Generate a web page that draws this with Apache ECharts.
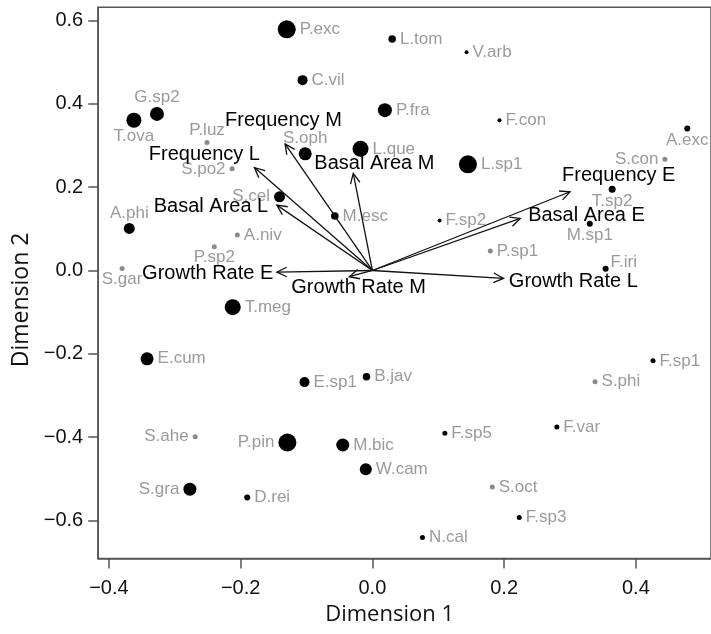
<!DOCTYPE html>
<html><head><meta charset="utf-8">
<script src="https://cdn.jsdelivr.net/npm/echarts@6/dist/echarts.min.js"></script>
<style>html,body{margin:0;padding:0;background:#fff}#c{width:711px;height:634px}</style>
</head><body><div id="c"></div>
<script>
// ---- species scores ----
const species = ['P.exc','L.tom','V.arb','C.vil','G.sp2','T.ova','P.luz','P.fra','F.con','S.oph','L.que','S.po2','S.cel','M.esc','L.sp1','A.exc','S.con','T.sp2','F.sp2','M.sp1','P.sp1','F.iri','F.sp1','S.phi','A.phi','A.niv','P.sp2','S.gar','T.meg','E.cum','E.sp1','B.jav','S.ahe','P.pin','M.bic','W.cam','S.gra','D.rei','F.sp5','F.var','S.oct','F.sp3','N.cal'];
const dim1 = [-0.130,0.030,0.143,-0.106,-0.327,-0.362,-0.251,0.019,0.193,-0.102,-0.018,-0.213,-0.141,-0.057,0.145,0.478,0.444,0.364,0.102,0.330,0.179,0.354,0.426,0.338,-0.369,-0.205,-0.240,-0.380,-0.212,-0.342,-0.103,-0.009,-0.269,-0.129,-0.045,-0.010,-0.277,-0.190,0.110,0.280,0.182,0.223,0.076];
const dim2 = [0.579,0.556,0.524,0.457,0.376,0.361,0.307,0.385,0.361,0.280,0.292,0.244,0.177,0.131,0.255,0.341,0.267,0.195,0.120,0.112,0.047,0.004,-0.217,-0.267,0.101,0.085,0.057,0.005,-0.088,-0.212,-0.268,-0.255,-0.399,-0.413,-0.419,-0.477,-0.525,-0.545,-0.391,-0.376,-0.520,-0.593,-0.641];
// relative abundance (drawn as symbol diameter)
const abundance = [9,3.75,2,5,7,7.5,2.5,7,2,6.5,8,2.5,5.5,3.75,9,3,2.5,3.5,2,3,2.5,3,2.5,2.5,5.5,2.5,2.5,2.5,8,6.5,5,3.75,2.5,9,6.5,6,6.5,3,2.5,2.5,2.5,2.5,2.5];
// group: k = dark point, g = grey point
const group = ['k','k','k','k','k','k','g','k','k','k','k','g','k','k','k','k','g','k','k','k','g','k','k','g','k','g','g','g','k','k','k','k','g','k','k','k','k','k','k','k','g','k','k'];
const labelSide = ['right','right','right','right','top','bottom','top','right','right','top','right','left','left','right','right','bottom','left','bottom','right','bottom','right','topright','right','right','top','right','bottom','bottom','right','right','right','right','left','left','right','right','left','right','right','right','right','right','right'];

// ---- variable vectors ----
const variables = ['Frequency M','Frequency L','Basal Area M','Basal Area L','Growth Rate E','Growth Rate M','Growth Rate L','Basal Area E','Frequency E'];
const varDim1 = [-0.1325,-0.179,-0.029,-0.145,-0.145,-0.035,0.199,0.2245,0.300];
const varDim2 = [0.304,0.247,0.233,0.157,-0.004,-0.015,-0.019,0.125,0.189];
const varLabelDim1 = [-0.135,-0.255,0.003,-0.245,-0.250,-0.021,0.305,0.325,0.374];
const varLabelDim2 = [0.360,0.278,0.257,0.153,-0.007,-0.040,-0.027,0.133,0.228];

// ---- axes ----
const xTicks = [-0.4,-0.2,0,0.2,0.4];
const yTicks = [-0.6,-0.4,-0.2,0,0.2,0.4,0.6];
const xRange = [-0.4162, 0.514];
const yRange = [-0.6915, 0.6319];

const fmt = v => { const r = Math.round(v*10)/10; return (r < 0 ? '\u2212' : '') + Math.abs(r).toFixed(1); };
const AX = '#555';
const LBL = '#9a9a9a';

function labelFor(side){
  const base = {show:true, color:LBL, fontSize:17, fontFamily:'Liberation Sans, Arial, sans-serif', formatter:'{b}'};
  if (side === 'topright') return Object.assign(base, {position:[8,-12]});
  const dist = {right:4,left:4,top:1,bottom:0}[side];
  return Object.assign(base, {position:side, distance:dist});
}

const points = species.map((s,i)=>({
  name:s, value:[dim1[i], dim2[i]],
  symbolSize: abundance[i]*2,
  itemStyle:{color: group[i]==='g' ? '#8a8a8a' : '#000', opacity:1},
  label: labelFor(labelSide[i])
}));

const chart = echarts.init(document.getElementById('c'), null, {renderer:'canvas'});
chart.setOption({
  animation:false,
  backgroundColor:'#fff',
  grid:{left:98.2, top:7.3, right:-2, bottom:75.5, show:true, borderColor:AX, borderWidth:1.5, containLabel:false},
  xAxis:{
    type:'value', min:xRange[0], max:xRange[1],
    name:'Dimension 1', nameLocation:'middle', nameGap:40,
    nameTextStyle:{fontFamily:'Open Sans', fontSize:22, color:'#111', padding:[0,30,0,0]},
    axisLine:{show:true, onZero:false, lineStyle:{color:AX, width:1.5}},
    axisTick:{show:true, length:10, lineStyle:{color:AX, width:1.5}, customValues:xTicks},
    axisLabel:{margin:20, fontSize:20, color:'#111', fontFamily:'Liberation Sans, Arial, sans-serif', customValues:xTicks, formatter:fmt},
    splitLine:{show:false}
  },
  yAxis:{
    type:'value', min:yRange[0], max:yRange[1],
    name:'Dimension 2', nameLocation:'middle', nameGap:53,
    nameTextStyle:{fontFamily:'Open Sans', fontSize:23, color:'#111', padding:[0,34,0,0]},
    axisLine:{show:true, onZero:false, lineStyle:{color:AX, width:1.5}},
    axisTick:{show:true, length:10, lineStyle:{color:AX, width:1.5}, customValues:yTicks},
    axisLabel:{margin:15, fontSize:20, color:'#111', fontFamily:'Liberation Sans, Arial, sans-serif', customValues:yTicks, formatter:fmt},
    splitLine:{show:false}
  },
  series:[
    {type:'scatter', symbol:'circle', data:points, z:2, itemStyle:{opacity:1}, labelLayout:{hideOverlap:false}},
    {type:'custom', z:3, data: variables.map((v,i)=>[varDim1[i], varDim2[i]]),
     renderItem(params, api){
       const o = api.coord([0,0]);
       const t = api.coord([api.value(0), api.value(1)]);
       const ang = Math.atan2(t[1]-o[1], t[0]-o[0]);
       const L = 11, a = Math.PI/7;
       const h1 = [t[0]-L*Math.cos(ang-a), t[1]-L*Math.sin(ang-a)];
       const h2 = [t[0]-L*Math.cos(ang+a), t[1]-L*Math.sin(ang+a)];
       return {type:'group', children:[
         {type:'line', shape:{x1:o[0],y1:o[1],x2:t[0],y2:t[1]}, style:{stroke:'#111', lineWidth:1.3}},
         {type:'polyline', shape:{points:[h1,t,h2]}, style:{stroke:'#111', lineWidth:1.3, fill:null}}
       ]};
     }},
    {type:'custom', z:4, data: variables.map((v,i)=>[varLabelDim1[i], varLabelDim2[i], v]),
     renderItem(params, api){
       const p = api.coord([api.value(0), api.value(1)]);
       return {type:'text', x:p[0], y:p[1], style:{text: variables[params.dataIndex], fill:'#000',
         font:'20px "Liberation Sans", Arial, sans-serif', align:'center', verticalAlign:'middle'}};
     }}
  ]
});
</script></body></html>
